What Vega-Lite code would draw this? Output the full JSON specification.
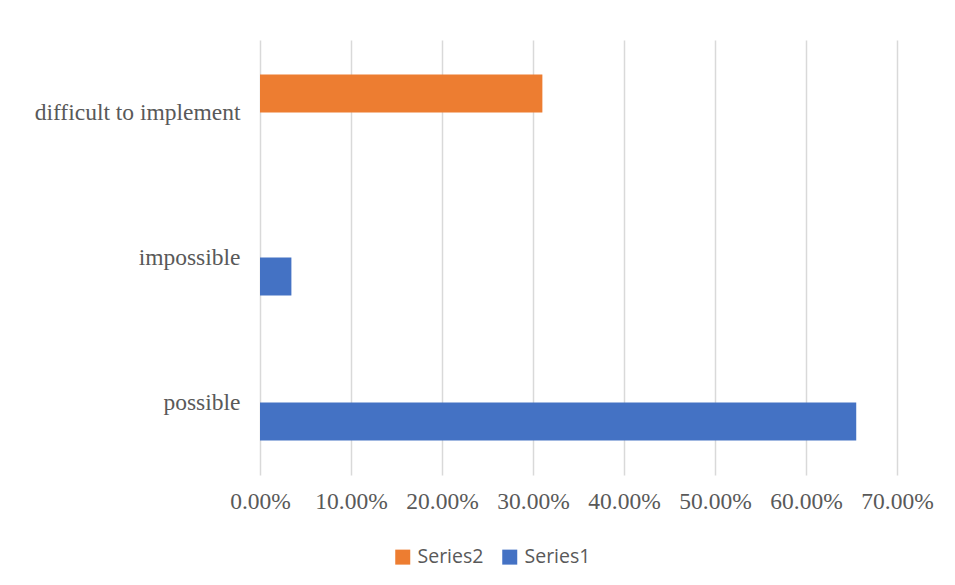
{
  "$schema": "https://vega.github.io/schema/vega-lite/v6.json",
  "width": 637,
  "height": 435,
  "autosize": {"type": "none"},
  "padding": {"left": 260, "top": 40, "right": 58, "bottom": 110},
  "background": "white",
  "config": {
    "view": {"stroke": null},
    "axis": {"labelFont": "Liberation Serif", "labelFontSize": 23.5, "labelColor": "#595959", "labelLimit": 0},
    "legend": {"labelFont": "Open Sans", "labelFontSize": 19.5, "labelColor": "#595959"}
  },
  "data": {
    "values": [
      {"category": "difficult to implement", "series": "Series2", "value": 0.3103},
      {"category": "difficult to implement", "series": "Series1", "value": 0},
      {"category": "impossible", "series": "Series2", "value": 0},
      {"category": "impossible", "series": "Series1", "value": 0.0345},
      {"category": "possible", "series": "Series2", "value": 0},
      {"category": "possible", "series": "Series1", "value": 0.6552}
    ]
  },
  "mark": {"type": "bar"},
  "encoding": {
    "y": {
      "field": "category",
      "type": "nominal",
      "sort": ["difficult to implement", "impossible", "possible"],
      "scale": {"paddingInner": 0.476, "paddingOuter": 0.238},
      "axis": {"title": null, "ticks": false, "domain": false, "labelPadding": 20, "grid": false, "labelLimit": 0}
    },
    "yOffset": {
      "field": "series",
      "type": "nominal",
      "scale": {"domain": ["Series2", "Series1"], "paddingInner": 0, "paddingOuter": 0}
    },
    "x": {
      "field": "value",
      "type": "quantitative",
      "scale": {"domain": [0, 0.7], "nice": false},
      "axis": {
        "title": null,
        "format": ".2%",
        "values": [0, 0.1, 0.2, 0.3, 0.4, 0.5, 0.6, 0.7],
        "ticks": false,
        "domain": false,
        "grid": true,
        "gridColor": "#d9d9d9",
        "gridWidth": 1.5,
        "labelPadding": 14,
        "labelFlush": false,
        "labelOverlap": false,
        "labelBound": false
      }
    },
    "color": {
      "field": "series",
      "type": "nominal",
      "scale": {"domain": ["Series2", "Series1"], "range": ["#ED7D31", "#4472C4"]},
      "legend": {
        "title": null,
        "orient": "none",
        "legendX": 133,
        "legendY": 507,
        "direction": "horizontal",
        "symbolType": "square",
        "symbolSize": 225,
        "symbolStrokeWidth": 0,
        "labelOffset": 5,
        "columnPadding": 16,
        "labelLimit": 0
      }
    }
  }
}
